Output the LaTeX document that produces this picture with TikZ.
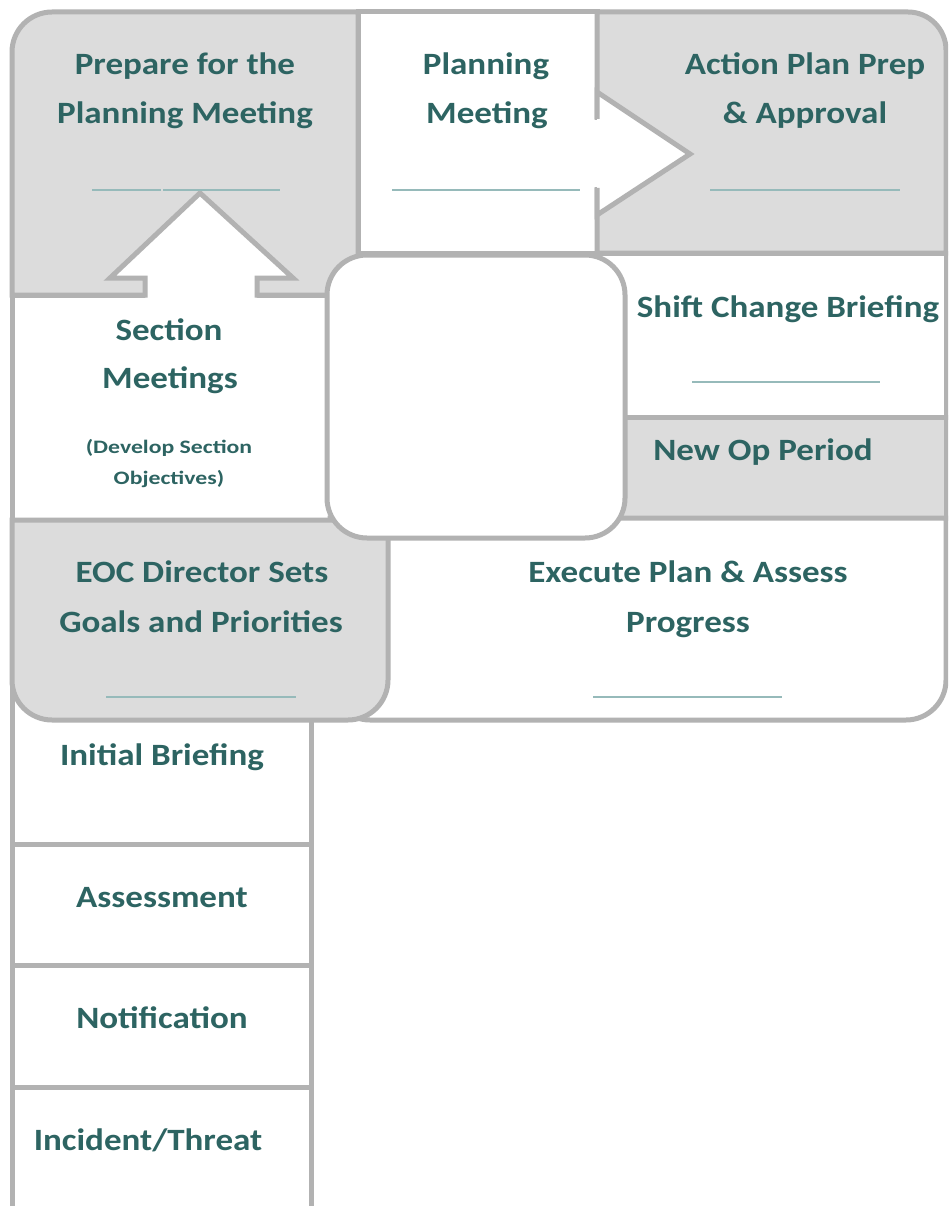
\documentclass[tikz,border=0pt]{standalone}
\usepackage{fontspec}
\setmainfont{Carlito}[FakeStretch=1.13]
\newfontfamily\smallfam{Carlito}[FakeStretch=1.25]
\definecolor{edge}{RGB}{178,178,178}
\definecolor{shade}{RGB}{220,220,220}
\definecolor{txt}{RGB}{45,100,98}
\definecolor{uline}{RGB}{150,186,186}
\tikzset{
  box/.style={draw=edge, line width=5pt},
  gbox/.style={box, fill=shade},
  wbox/.style={box, fill=white},
  lbl/.style={text=txt, font=\bfseries\fontsize{31}{36}\selectfont, anchor=base, inner sep=0pt},
  sml/.style={lbl, font=\smallfam\bfseries\fontsize{19}{22}\selectfont},
  ul/.style={draw=uline, line width=2pt}
}
\begin{document}
\begin{tikzpicture}[x=1pt, y=-1pt]
\clip (0,0) rectangle (948,1206);
\fill[white] (0,0) rectangle (948,1206);

% bottom stack
\draw[wbox] (12,690) rectangle (311,844);
\draw[wbox] (12,844) rectangle (311,965);
\draw[wbox] (12,965) rectangle (311,1087);
\draw[wbox] (12,1087) rectangle (311,1220);

% prepare box
\draw[gbox] (12,295) -- (12,52) arc[start angle=180, end angle=270, radius=40] -- (358,12) -- (358,295) -- cycle;
% planning meeting box
\draw[wbox] (358,12) rectangle (597,253);
% action plan box
\draw[gbox] (597,12) -- (908,12) arc[start angle=270, end angle=360, radius=38] -- (946,253) -- (597,253) -- cycle;
% shift change box
\draw[wbox] (597,253) rectangle (946,417);
% new op period
\draw[gbox] (597,417) rectangle (946,518);
% section meetings
\draw[wbox] (12,295) rectangle (340,520);
% execute
\draw[wbox] (330,518) -- (946,518) -- (946,680) arc[start angle=0, end angle=90, radius=40] -- (370,720) arc[start angle=90, end angle=180, radius=40] -- cycle;
% EOC
\draw[gbox] (12,520) -- (388,520) -- (388,680) arc[start angle=0, end angle=90, radius=40] -- (52,720) arc[start angle=90, end angle=180, radius=40] -- cycle;

% right arrow: planning meeting -> action plan
\fill[white] (570,120) rectangle (600,187);
\filldraw[fill=white, draw=edge, line width=5pt] (597,119) -- (597,92) -- (690,154) -- (597,215) -- (597,188);

% up arrow: section meetings -> prepare
\fill[white] (146,270) rectangle (256,300);
\filldraw[fill=white, draw=edge, line width=5pt] (145,297.5) -- (145,278) -- (110,278) -- (200,193) -- (293,278) -- (257,278) -- (257,297.5);

% central square
\node[draw=edge, line width=5pt, fill=white, rounded corners=40pt, minimum width=298pt, minimum height=283pt, inner sep=0pt] (hub) at (476,396.5) {};

% underlines
\draw[ul] (92,190) -- (161,190);
\draw[ul] (163,190) -- (280,190);
\draw[ul] (392,190) -- (580,190);
\draw[ul] (710,190) -- (900,190);
\draw[ul] (692,382) -- (880,382);
\draw[ul] (106,697) -- (296,697);
\draw[ul] (593,697) -- (782,697);

% labels
\node[lbl] (prepA) at (185,75) {Prepare for the};
\node[lbl] (prepB) at (185,124) {Planning Meeting};
\node[lbl] (planA) at (486,75) {Planning};
\node[lbl] (planB) at (487,124) {Meeting};
\node[lbl] (actA) at (805,75) {Action Plan Prep};
\node[lbl] (actB) at (805,124) {\& Approval};
\node[lbl] (shift) at (788,317) {Shift Change Briefing};
\node[lbl] (newop) at (763,460) {New Op Period};
\node[lbl] (secA) at (169,340) {Section};
\node[lbl] (secB) at (170,388) {Meetings};
\node[sml] (secC) at (169,453) {(Develop Section};
\node[sml] (secD) at (169,484) {Objectives)};
\node[lbl] (eocA) at (202,582) {EOC Director Sets};
\node[lbl] (eocB) at (201,632) {Goals and Priorities};
\node[lbl] (exeA) at (688,582) {Execute Plan \& Assess};
\node[lbl] (exeB) at (688,632) {Progress};
\node[lbl] (init) at (162,765) {Initial Briefing};
\node[lbl] (assess) at (162,907) {Assessment};
\node[lbl] (notif) at (162,1028) {Notification};
\node[lbl] (incid) at (148,1150) {Incident/Threat};
\end{tikzpicture}
\end{document}
